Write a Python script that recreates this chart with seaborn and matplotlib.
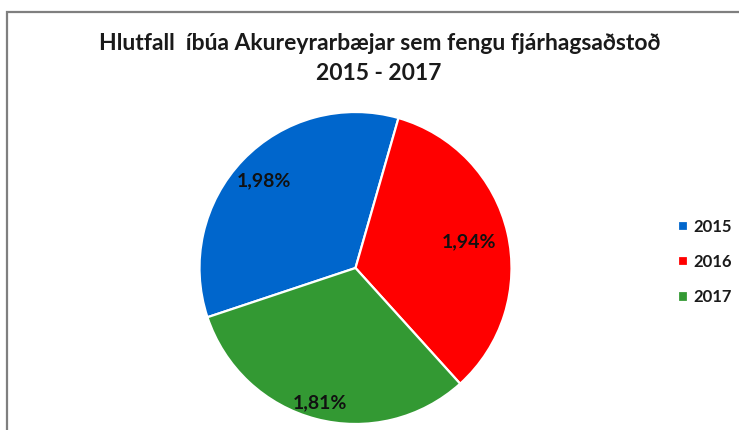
import matplotlib
matplotlib.use('Agg')
import matplotlib.pyplot as plt
import numpy as np
import seaborn as sns
from matplotlib.patches import Rectangle

# data
years = ['2015', '2016', '2017']
shares = [1.98, 1.94, 1.81]
share_labels = ['1,98%', '1,94%', '1,81%']
slice_colors = ['#0066CC', '#FF0000', '#339933']
title_lines = ['Hlutfall  íbúa Akureyrarbæjar sem fengu fjárhagsaðstoð', '2015 - 2017']

sns.set_theme(style='white')
plt.rcParams['font.family'] = ['Lato', 'DejaVu Sans']

W, H = 739, 430
fig = plt.figure(figsize=(W / 100, H / 100), dpi=100)
fig.patch.set_facecolor('white')

# chart border (cropped on right / bottom)
fig.patches.append(Rectangle((7 / W, -0.1), 1.2, 1 - 12 / H + 0.1,
                             transform=fig.transFigure, fill=False,
                             edgecolor='#7f7f7f', linewidth=1.6))

# pie box: centre (355.5, 268) px, radius 156 px
cx, cy, r = 355.5, 268, 156
ax = fig.add_axes([(cx - r) / W, (H - cy - r) / H, 2 * r / W, 2 * r / H])
wedges, _ = ax.pie(shares, colors=slice_colors, startangle=198.4,
                   counterclock=False, radius=1.0,
                   wedgeprops=dict(edgecolor='white', linewidth=1.6))
ax.set_xlim(-1, 1)
ax.set_ylim(-1, 1)
ax.set_aspect('equal')
ax.axis('off')

# data labels along each slice's mid angle
label_dist = [0.81, 0.75, 0.89]
for w, txt, d in zip(wedges, share_labels, label_dist):
    ang = np.deg2rad((w.theta1 + w.theta2) / 2)
    ax.text(d * np.cos(ang), d * np.sin(ang), txt, ha='center', va='center',
            fontsize=14, fontweight='bold', color='#111111')

# title
fig.text(380 / W, 1 - 44 / H, title_lines[0], ha='center', va='center',
         fontsize=16.5, fontweight='bold', color='#1a1a1a')
fig.text(379 / W, 1 - 73 / H, title_lines[1], ha='center', va='center',
         fontsize=16.5, fontweight='bold', color='#1a1a1a')

# legend
leg = fig.legend(wedges, years, loc='center left',
                 bbox_to_anchor=(678 / W, 1 - 262 / H), frameon=False,
                 borderpad=0, borderaxespad=0,
                 handlelength=0.6, handleheight=0.6, handletextpad=0.3,
                 labelspacing=1.15, prop=dict(size=12, weight='bold'))
for t in leg.get_texts():
    t.set_color('#1a1a1a')

fig.savefig('out.png', dpi=100, facecolor='white')
